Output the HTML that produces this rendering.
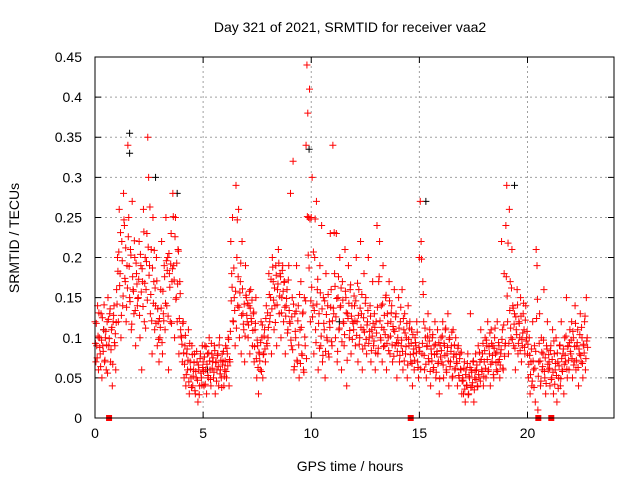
<!DOCTYPE html>
<html><head><meta charset="utf-8"><style>
body{margin:0;background:#fff;}
svg text{font-family:"Liberation Sans",sans-serif;font-size:14px;fill:#000;}
</style></head><body>
<svg id="chart" width="640" height="480" viewBox="0 0 640 480" xmlns="http://www.w3.org/2000/svg">
<rect width="640" height="480" fill="#fff"/>
<text x="350" y="32" text-anchor="middle">Day 321 of 2021, SRMTID for receiver vaa2</text>
<text x="350" y="471" text-anchor="middle">GPS time / hours</text>
<text x="0" y="0" text-anchor="middle" transform="translate(19,238) rotate(-90)">SRMTID / TECUs</text>
<g id="grid"></g>
<g id="axes"></g>
<g id="black"></g>
<g id="red"></g>
<g id="gaps"></g>
<rect x="95" y="57" width="519" height="361" fill="none" stroke="#000" stroke-width="1"/>
</svg>
<script>
const xTicks=[0,5,10,15,20];
const yTicks=[0,0.05,0.1,0.15,0.2,0.25,0.3,0.35,0.4,0.45];
const yTickLabels=["0","0.05","0.1","0.15","0.2","0.25","0.3","0.35","0.4","0.45"];
const segStarts=[0,1,2,3,4,5,6,7,8,9,10,11,12,13,14,15,16,17,18,19,20,21,22];
const segStep=0.04;
const segValues=[
[.12,.07,.09,.14,.06,.10,.08,.13,.05,.09,.11,.07,.10,.06,.12,.15,.09,.13,.07,.11,.04,.12,.14,.09,.06],
[.16,.20,.12,.26,.18,.10,.22,.14,.28,.24,.17,.12,.19,.34,.25,.15,.21,.11,.27,.16,.13,.20,.09,.18,.14],
[.15,.22,.10,.19,.06,.17,.26,.12,.20,.16,.23,.35,.30,.19,.13,.21,.08,.25,.17,.11,.14,.20,.09,.12,.07],
[.10,.16,.22,.08,.13,.19,.11,.25,.14,.20,.06,.18,.12,.23,.17,.28,.19,.10,.25,.15,.12,.21,.08,.17,.11],
[.10,.07,.12,.05,.09,.04,.08,.06,.11,.03,.07,.05,.09,.04,.06,.08,.03,.05,.07,.02,.06,.04,.08,.05,.09],
[.07,.04,.09,.06,.03,.08,.05,.10,.06,.04,.08,.07,.05,.09,.03,.07,.06,.08,.04,.10,.06,.05,.08,.07,.04],
[.06,.09,.05,.08,.10,.04,.07,.22,.18,.25,.12,.15,.09,.29,.20,.14,.26,.10,.17,.08,.22,.13,.11,.07,.19],
[.15,.12,.10,.14,.08,.16,.12,.09,.13,.07,.11,.15,.05,.09,.03,.08,.06,.12,.10,.05,.08,.11,.07,.14,.09],
[.10,.18,.12,.15,.08,.20,.17,.11,.14,.19,.09,.16,.21,.13,.18,.10,.15,.19,.12,.17,.08,.14,.16,.11,.19],
[.12,.28,.09,.15,.32,.06,.13,.10,.19,.07,.14,.05,.11,.17,.08,.13,.06,.15,.09,.34,.44,.38,.25,.41,.12],
[.25,.30,.14,.08,.20,.11,.27,.16,.06,.13,.19,.09,.24,.07,.15,.11,.05,.18,.10,.14,.08,.12,.23,.16,.09],
[.34,.13,.18,.10,.23,.07,.15,.11,.20,.14,.06,.17,.12,.09,.21,.15,.04,.13,.19,.10,.16,.08,.14,.12,.11],
[.14,.09,.20,.12,.07,.16,.10,.22,.13,.06,.11,.18,.09,.15,.08,.12,.20,.10,.14,.07,.11,.17,.09,.13,.06],
[.12,.24,.08,.17,.22,.10,.14,.07,.19,.11,.09,.15,.06,.13,.10,.17,.08,.12,.14,.07,.11,.16,.09,.13,.05],
[.10,.15,.07,.12,.09,.16,.06,.11,.13,.08,.10,.05,.14,.09,.12,.07,.11,.04,.08,.06,.10,.09,.12,.07,.05],
[.20,.27,.22,.08,.17,.12,.06,.10,.05,.09,.13,.07,.11,.04,.08,.10,.06,.09,.12,.05,.08,.11,.07,.03,.09],
[.10,.07,.12,.05,.09,.11,.06,.08,.13,.04,.10,.07,.09,.05,.11,.08,.06,.10,.07,.04,.09,.05,.08,.06,.03],
[.05,.03,.07,.02,.06,.04,.08,.03,.05,.13,.06,.04,.07,.02,.05,.08,.06,.04,.09,.05,.07,.11,.06,.08,.04],
[.07,.10,.05,.09,.12,.06,.08,.04,.11,.07,.09,.05,.10,.08,.06,.12,.07,.09,.05,.08,.22,.11,.06,.18,.09],
[.24,.29,.12,.08,.26,.17,.10,.21,.14,.09,.13,.06,.11,.16,.08,.12,.10,.15,.07,.09,.13,.11,.08,.14,.10],
[.08,.05,.10,.03,.07,.04,.12,.06,.09,.02,.21,.19,.01,.07,.13,.04,.10,.06,.08,.16,.05,.03,.09,.12,.06],
[.07,.04,.09,.05,.11,.03,.08,.06,.10,.02,.07,.05,.09,.04,.12,.06,.08,.03,.10,.07,.15,.05,.09,.06,.11],
[.08,.12,.05,.10,.07,.14,.06,.09,.11,.04,.08,.13,.07,.10,.05,.09,.12,.06,.15,.10]
];
const segValues2=[
[.093,.118,.075,.102,.131,.088,.064,.097,.125,.083,.141,.072,.108,.091,.056,.123,.099,.136,.085,.113,.067,.128,.094,.105,.119],
[.142,.183,.207,.165,.231,.128,.196,.152,.247,.174,.212,.138,.162,.226,.189,.145,.203,.117,.176,.158,.221,.134,.193,.167,.149],
[.173,.128,.204,.157,.186,.139,.232,.168,.112,.195,.147,.213,.178,.263,.154,.121,.187,.143,.209,.162,.118,.171,.136,.098,.124],
[.113,.137,.094,.158,.121,.176,.143,.196,.184,.127,.205,.163,.192,.118,.186,.251,.172,.226,.148,.193,.167,.208,.124,.155,.102],
[.092,.118,.081,.067,.103,.054,.086,.072,.045,.093,.061,.038,.079,.052,.069,.034,.058,.083,.047,.066,.029,.074,.056,.041,.063],
[.058,.076,.042,.089,.067,.053,.081,.071,.048,.093,.062,.075,.057,.084,.069,.046,.078,.064,.091,.055,.072,.038,.066,.083,.052],
[.071,.058,.087,.065,.098,.073,.108,.146,.163,.121,.187,.134,.158,.112,.247,.176,.138,.156,.193,.128,.161,.117,.142,.102,.153],
[.128,.143,.116,.158,.137,.124,.147,.109,.132,.089,.118,.074,.097,.063,.082,.071,.094,.058,.116,.079,.102,.086,.124,.093,.131],
[.113,.154,.128,.173,.136,.188,.147,.162,.119,.178,.141,.167,.193,.152,.176,.131,.184,.158,.169,.138,.127,.149,.106,.172,.134],
[.118,.097,.126,.085,.142,.064,.108,.133,.072,.121,.091,.154,.068,.113,.078,.132,.057,.101,.146,.074,.251,.203,.187,.248,.146],
[.163,.126,.207,.134,.248,.094,.142,.173,.118,.087,.156,.102,.136,.078,.118,.146,.083,.129,.097,.154,.076,.113,.138,.095,.121],
[.137,.231,.164,.126,.149,.083,.176,.112,.138,.162,.095,.147,.118,.104,.158,.131,.072,.124,.143,.109,.166,.127,.098,.118,.152],
[.121,.146,.103,.168,.128,.092,.137,.113,.154,.086,.125,.107,.143,.098,.116,.134,.093,.108,.127,.084,.102,.118,.096,.113,.081],
[.106,.138,.087,.176,.121,.097,.113,.142,.089,.128,.104,.153,.093,.118,.084,.146,.102,.131,.091,.114,.077,.108,.126,.094,.083],
[.093,.112,.078,.138,.097,.083,.124,.071,.106,.089,.118,.066,.098,.112,.079,.093,.068,.104,.086,.072,.094,.081,.107,.063,.088],
[.083,.061,.198,.093,.154,.078,.112,.067,.089,.102,.074,.096,.058,.086,.071,.104,.063,.079,.092,.057,.083,.068,.094,.049,.076],
[.084,.102,.066,.093,.078,.112,.057,.088,.071,.098,.064,.083,.107,.052,.076,.091,.062,.079,.068,.087,.053,.074,.061,.082,.046],
[.047,.062,.036,.054,.041,.068,.029,.052,.063,.038,.057,.044,.071,.035,.059,.048,.066,.039,.054,.082,.046,.073,.058,.093,.052],
[.084,.062,.097,.073,.058,.089,.106,.067,.093,.078,.054,.087,.112,.069,.082,.058,.094,.073,.066,.085,.098,.062,.116,.077,.093],
[.176,.152,.218,.093,.134,.112,.162,.098,.137,.117,.087,.126,.104,.141,.093,.118,.084,.127,.098,.106,.143,.088,.122,.096,.108],
[.092,.067,.078,.054,.086,.046,.071,.038,.062,.083,.124,.148,.052,.093,.071,.046,.082,.064,.097,.058,.075,.043,.086,.067,.079],
[.062,.084,.048,.073,.057,.096,.042,.068,.053,.081,.037,.065,.091,.049,.074,.058,.086,.067,.078,.102,.061,.089,.072,.094,.083],
[.097,.074,.108,.066,.089,.118,.072,.094,.063,.086,.104,.078,.113,.068,.092,.081,.127,.074,.096,.088]
];
const blackTimes=[1.6,1.6,2.8,3.8,9.9,15.3,19.4,0.4,5.2,11.3];
const blackValues=[.355,.33,.30,.28,.335,.27,.29,.11,.06,.12];
const gapTimes=[0.65,14.6,20.5,21.1];

const X0=95,X1=614,XMAX=24,Y0=418,Y1=57,YMAX=0.45;
const xs=t=>X0+(X1-X0)*t/XMAX;
const ys=v=>Y0-(Y0-Y1)*v/YMAX;
const NS="http://www.w3.org/2000/svg";
function mk(tag,attrs,parent){const e=document.createElementNS(NS,tag);for(const k in attrs)e.setAttribute(k,attrs[k]);parent.appendChild(e);return e;}
const grid=document.getElementById('grid'),axes=document.getElementById('axes');
xTicks.forEach(t=>{
  const x=xs(t);
  if(t>0){const g=mk('line',{x1:x,y1:Y0,x2:x,y2:Y1,stroke:'#a0a0a0','stroke-dasharray':'2,3'},grid);
  
  }
  const tk=mk('path',{d:`M${x},${Y0}v-6M${x},${Y1}v6`,stroke:'#000'},axes);
  
  
  const lb=mk('text',{x:x,y:Y0+20,'text-anchor':'middle'},axes);lb.textContent=String(t);
  
  
});
yTicks.forEach((v,i)=>{
  const y=ys(v);
  if(i>0&&i<yTicks.length-1){const g=mk('line',{x1:X0,y1:y,x2:X1,y2:y,stroke:'#a0a0a0','stroke-dasharray':'2,3'},grid);
  
  }
  const tk=mk('path',{d:`M${X0},${y}h6M${X1},${y}h-6`,stroke:'#000'},axes);
  
  
  const lb=mk('text',{x:X0-13,y:y+5,'text-anchor':'end'},axes);lb.textContent=yTickLabels[i];
  
  
});
function cross(t,v,color,parent,name){
  const x=xs(t),y=ys(v);
  const p=mk('path',{d:`M${x-3.5},${y}h7M${x},${y-3.5}v7`,stroke:color,'stroke-width':1},parent);
  
  
}
const blk=document.getElementById('black');
blackTimes.forEach((t,i)=>cross(t,blackValues[i],'#000',blk,'black-point'));
const red=document.getElementById('red');
segStarts.forEach((s,j)=>segValues[j].forEach((v,i)=>cross(s+i*segStep,v,'#f00',red,'red-point')));
segStarts.forEach((s,j)=>segValues2[j].forEach((v,i)=>cross(s+0.02+i*segStep,v,'#f00',red,'red-point')));
const gaps=document.getElementById('gaps');
gapTimes.forEach(t=>{
  const r=mk('rect',{x:xs(t)-3,y:Y0-3,width:6,height:6,fill:'#f00'},gaps);
  
  
});
</script>
</body></html>
